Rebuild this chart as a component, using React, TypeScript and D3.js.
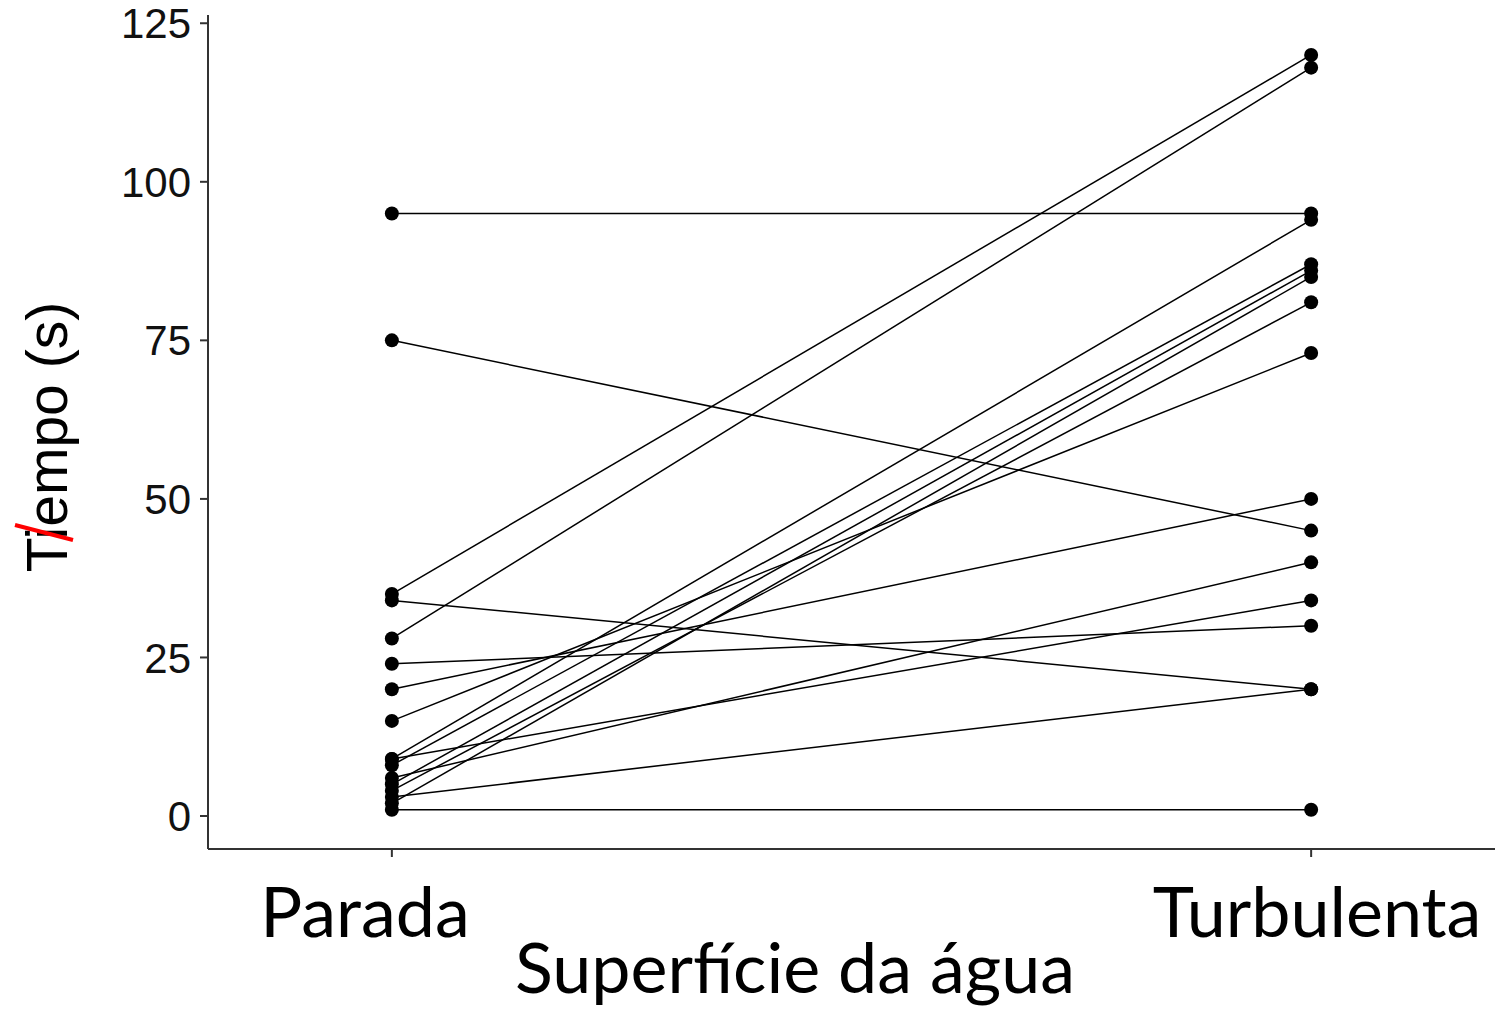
import React from 'react'
import * as d3 from 'd3'

// superficie categories
const categories = ['Parada', 'Turbulenta']
// tempo (s) per individual, paired by index
const parada = [95, 75, 35, 34, 28, 24, 20, 15, 9, 8, 5, 2, 4, 9, 6, 3, 1]
const turbulenta = [95, 45, 120, 20, 118, 30, 50, 73, 94, 87, 86, 85, 81, 34, 40, 20, 1]
const yTicks = [0, 25, 50, 75, 100, 125]

const W = 1498
const H = 1015
const left = 208
const right = 1495
const top = 15
const bottom = 849

function App() {
  const x = d3.scalePoint<string>().domain(categories).range([left, right]).padding(0.2)
  const y = d3.scaleLinear().domain([-5.2, 126.3]).range([bottom, top])

  const pairs = parada.map((p, i) => [p, turbulenta[i]])
  const line = d3
    .line<[string, number]>()
    .x((d) => x(d[0]) as number)
    .y((d) => y(d[1]))

  const tickFont = '"Liberation Sans", Arial, sans-serif'
  const labelFont = 'Lato, "Open Sans", sans-serif'

  return (
    <svg width={W} height={H} style={{display: 'block', position: 'absolute', left: 0, top: 0, background: '#fff'}}>
      {/* axes */}
      <line x1={left} x2={left} y1={top} y2={bottom} stroke="#333" strokeWidth={2} />
      <line x1={left} x2={right} y1={bottom} y2={bottom} stroke="#333" strokeWidth={2} />
      {yTicks.map((t) => (
        <g key={t}>
          <line x1={left - 8} x2={left} y1={y(t)} y2={y(t)} stroke="#333" strokeWidth={2} />
          <text x={left - 17} y={y(t)} dy="0.36em" textAnchor="end" fontFamily={tickFont} fontSize={42} fill="#111">
            {t}
          </text>
        </g>
      ))}
      {categories.map((c) => (
        <line key={c} x1={x(c)} x2={x(c)} y1={bottom} y2={bottom + 8} stroke="#333" strokeWidth={2} />
      ))}

      {/* paired lines */}
      {pairs.map((p, i) => (
        <path
          key={i}
          d={line([[categories[0], p[0]], [categories[1], p[1]]]) as string}
          fill="none"
          stroke="#000"
          strokeWidth={1.5}
        />
      ))}
      {pairs.map((p, i) => (
        <g key={'pt' + i}>
          <circle cx={x(categories[0])} cy={y(p[0])} r={7} fill="#000" />
          <circle cx={x(categories[1])} cy={y(p[1])} r={7} fill="#000" />
        </g>
      ))}

      {/* category labels */}
      <text x={365} y={937} textAnchor="middle" fontFamily={labelFont} fontSize={70} fill="#000">
        {categories[0]}
      </text>
      <text x={1317} y={937} textAnchor="middle" fontFamily={labelFont} fontSize={70} fill="#000">
        {categories[1]}
      </text>
      <text x={795} y={993} textAnchor="middle" fontFamily={labelFont} fontSize={70} fill="#000">
        Superfície da água
      </text>

      {/* y label */}
      <g transform="translate(67,437) rotate(-90)">
        <text x={0} y={0} textAnchor="middle" fontFamily={tickFont} fontSize={57} fill="#000">
          Tiempo (s)
        </text>
      </g>
      <line x1={15} y1={525} x2={73} y2={540} stroke="#f00" strokeWidth={4} />
    </svg>
  )
}

export default App
